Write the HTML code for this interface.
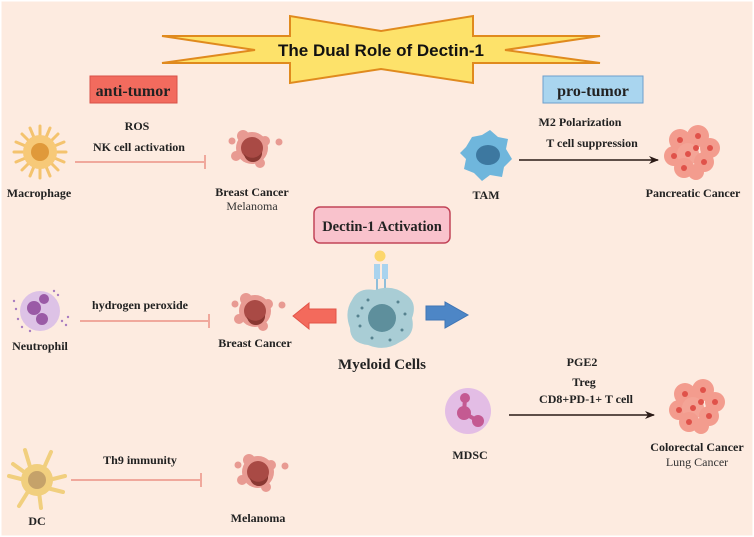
<!DOCTYPE html>
<html><head><meta charset="utf-8"><style>
html,body{margin:0;padding:0;background:#fff}
svg{display:block}
.t{font-family:"Liberation Serif",serif;font-weight:bold;fill:#222;text-anchor:middle}
.n{font-family:"Liberation Serif",serif;fill:#333;text-anchor:middle}
</style></head><body>
<svg width="754" height="537" viewBox="0 0 754 537" xmlns="http://www.w3.org/2000/svg">
<defs>
<marker id="ah" markerWidth="10" markerHeight="8" refX="9" refY="4" orient="auto" markerUnits="userSpaceOnUse"><path d="M0,0 L10,4 L0,8 L3,4 Z" fill="#2a1a16"/></marker>
<g id="cancer">
<circle cx="-9" cy="-12" r="6" fill="#e89a92"/><circle cx="13" cy="-7" r="5" fill="#e89a92"/>
<circle cx="-16" cy="8" r="5" fill="#e89a92"/><circle cx="8" cy="15" r="5" fill="#e89a92"/>
<circle cx="27" cy="-6" r="3.5" fill="#e89a92"/><circle cx="-20" cy="-7" r="3.5" fill="#e89a92"/>
<circle cx="0" cy="0" r="16" fill="#e89a92"/>
<circle cx="0" cy="0" r="11" fill="#a94a45"/>
<path d="M-8,6 A11,11 0 0 0 10,4 A9,9 0 0 1 -8,6Z" fill="#8a3832"/>
</g>
<g id="cluster">
<circle cx="-12" cy="-10" r="11" fill="#f39c8e"/><circle cx="6" cy="-14" r="11" fill="#f39c8e"/>
<circle cx="18" cy="-2" r="10" fill="#f39c8e"/><circle cx="-18" cy="6" r="10" fill="#f39c8e"/>
<circle cx="-4" cy="4" r="11" fill="#f4a496"/><circle cx="12" cy="12" r="10" fill="#f39c8e"/>
<circle cx="-8" cy="18" r="10" fill="#f39c8e"/><circle cx="4" cy="22" r="8" fill="#f39c8e"/>
<circle cx="-12" cy="-10" r="3" fill="#e0524a"/><circle cx="6" cy="-14" r="3" fill="#e0524a"/>
<circle cx="18" cy="-2" r="3" fill="#e0524a"/><circle cx="-18" cy="6" r="3" fill="#e0524a"/>
<circle cx="-4" cy="4" r="3" fill="#e0524a"/><circle cx="12" cy="12" r="3" fill="#e0524a"/>
<circle cx="-8" cy="18" r="3" fill="#e0524a"/><circle cx="4" cy="-2" r="3" fill="#e0524a"/>
</g>
</defs>
<rect x="0" y="0" width="754" height="537" fill="#fdebe0"/>
<rect x="0.5" y="0.5" width="753" height="536" fill="none" stroke="#fff" stroke-width="2"/>

<!-- banner -->
<polygon points="162,36 290,36 290,16 381,31 473,16 473,36 600,36 505,50 600,63 473,63 473,83 381,69 290,83 290,63 162,63 255,50" fill="#fde26a" stroke="#e08a1e" stroke-width="2" stroke-linejoin="miter"/>
<text x="381" y="56" font-family="Liberation Sans,sans-serif" font-weight="bold" font-size="17" text-anchor="middle" fill="#111">The Dual Role of Dectin-1</text>

<!-- labels -->
<rect x="90" y="76" width="87" height="27" fill="#f26b5e" stroke="#d85248"/>
<text x="133" y="96" class="t" font-size="16" fill="#222">anti-tumor</text>
<rect x="543" y="76" width="100" height="27" fill="#a9d5ef" stroke="#6d9fcc"/>
<text x="593" y="96" class="t" font-size="16">pro-tumor</text>

<!-- macrophage -->
<g transform="translate(40,152)">
<g stroke="#f4c36e" stroke-width="3" stroke-linecap="round">
<line x1="0" y1="-26" x2="0" y2="26"/><line x1="-26" y1="0" x2="26" y2="0"/>
<line x1="-18" y1="-18" x2="18" y2="18"/><line x1="-18" y1="18" x2="18" y2="-18"/>
<line x1="-10" y1="-24" x2="10" y2="24"/><line x1="-24" y1="-10" x2="24" y2="10"/>
<line x1="10" y1="-24" x2="-10" y2="24"/><line x1="24" y1="-10" x2="-24" y2="10"/>
</g>
<circle r="17" fill="#f7c978"/><circle r="9" fill="#e0993a"/>
</g>
<text x="39" y="197" class="t" font-size="12">Macrophage</text>
<text x="137" y="130" class="t" font-size="12">ROS</text>
<text x="139" y="151" class="t" font-size="12">NK cell activation</text>
<line x1="75" y1="162" x2="205" y2="162" stroke="#f0a89c" stroke-width="2"/>
<line x1="205" y1="155" x2="205" y2="169" stroke="#f0a89c" stroke-width="2"/>
<use href="#cancer" x="252" y="148"/>
<text x="252" y="196" class="t" font-size="12">Breast Cancer</text>
<text x="252" y="210" class="n" font-size="12">Melanoma</text>

<!-- Dectin box -->
<rect x="314" y="207" width="136" height="36" rx="6" fill="#f9c2cc" stroke="#c24458" stroke-width="1.5"/>
<text x="382" y="231" class="t" font-size="14.5">Dectin-1 Activation</text>
<circle cx="380" cy="256" r="5.5" fill="#fcd66c"/>
<rect x="374" y="264" width="6" height="15" fill="#a9d3ee"/><rect x="382" y="264" width="6" height="15" fill="#a9d3ee"/>
<line x1="377" y1="279" x2="377" y2="294" stroke="#6aaed8" stroke-width="1.5"/><line x1="385" y1="279" x2="385" y2="294" stroke="#6aaed8" stroke-width="1.5"/>
<path d="M352,300 Q358,287 375,290 Q392,284 405,294 Q418,302 412,318 Q416,335 400,342 Q385,352 368,345 Q350,343 350,328 Q344,312 352,300Z" fill="#a9cdd5"/>
<circle cx="382" cy="318" r="14" fill="#5e8f9c"/>
<g fill="#56828f"><circle cx="362" cy="308" r="1.5"/><circle cx="368" cy="300" r="1.5"/><circle cx="398" cy="302" r="1.5"/><circle cx="405" cy="314" r="1.5"/><circle cx="360" cy="326" r="1.5"/><circle cx="402" cy="330" r="1.5"/><circle cx="372" cy="338" r="1.5"/><circle cx="390" cy="340" r="1.5"/><circle cx="358" cy="316" r="1.5"/></g>
<text x="382" y="369" class="t" font-size="15">Myeloid Cells</text>
<polygon points="293,316 309,303 309,309 336,309 336,323 309,323 309,329" fill="#f36a5c" stroke="#e25448"/>
<polygon points="426,306 445,306 445,302 468,315 445,328 445,320 426,320" fill="#4d86c6" stroke="#3f75b5"/>

<!-- neutrophil -->
<g transform="translate(40,311)">
<circle r="20" fill="#ddc2e6"/>
<g fill="#a97cc0"><circle cx="-26" cy="-10" r="1.2"/><circle cx="-22" cy="8" r="1.2"/><circle cx="22" cy="10" r="1.2"/><circle cx="26" cy="14" r="1.2"/><circle cx="-18" cy="16" r="1.2"/><circle cx="14" cy="-20" r="1.2"/><circle cx="18" cy="-16" r="1.2"/><circle cx="-24" cy="-2" r="1.2"/><circle cx="-10" cy="20" r="1.2"/><circle cx="28" cy="6" r="1.2"/></g>
<circle cx="-6" cy="-3" r="7" fill="#9a5aa6"/><circle cx="2" cy="8" r="6" fill="#9a5aa6"/><circle cx="4" cy="-12" r="5" fill="#9a5aa6"/>
</g>
<text x="40" y="350" class="t" font-size="12">Neutrophil</text>
<text x="140" y="309" class="t" font-size="12">hydrogen peroxide</text>
<line x1="80" y1="321" x2="209" y2="321" stroke="#f0a89c" stroke-width="2"/>
<line x1="209" y1="314" x2="209" y2="328" stroke="#f0a89c" stroke-width="2"/>
<use href="#cancer" x="255" y="311"/>
<text x="255" y="347" class="t" font-size="12">Breast Cancer</text>

<!-- DC -->
<g transform="translate(37,480)">
<g stroke="#f1cf7e" stroke-width="4" stroke-linecap="round" fill="none">
<path d="M-6,-10 L-12,-30"/><path d="M6,-10 L14,-28"/><path d="M12,0 L28,-4"/><path d="M10,8 L26,12"/>
<path d="M2,12 L4,28"/><path d="M-8,10 L-18,26"/><path d="M-12,0 L-28,-4"/><path d="M-10,-6 L-24,-16"/>
</g>
<circle r="16" fill="#f1cf7e"/><circle r="9" fill="#c5a26a"/>
</g>
<text x="37" y="525" class="t" font-size="12">DC</text>
<text x="140" y="464" class="t" font-size="12">Th9 immunity</text>
<line x1="71" y1="480" x2="201" y2="480" stroke="#f0a89c" stroke-width="2"/>
<line x1="201" y1="473" x2="201" y2="487" stroke="#f0a89c" stroke-width="2"/>
<use href="#cancer" x="258" y="472"/>
<text x="258" y="522" class="t" font-size="12">Melanoma</text>

<!-- TAM -->
<g transform="translate(486,155)">
<path d="M-20,-8 L-14,-18 L-4,-20 L4,-25 L12,-18 L22,-16 L20,-6 L26,4 L18,12 L16,22 L4,20 L-4,26 L-12,18 L-22,14 L-20,4 L-26,-2Z" fill="#6fb6dc"/>
<ellipse cx="2" cy="0" rx="12" ry="10" fill="#3d78a0"/>
</g>
<text x="486" y="199" class="t" font-size="12">TAM</text>
<text x="580" y="126" class="t" font-size="12">M2 Polarization</text>
<text x="592" y="147" class="t" font-size="12">T cell suppression</text>
<line x1="519" y1="160" x2="658" y2="160" stroke="#2a1a16" stroke-width="1.5" marker-end="url(#ah)"/>
<use href="#cluster" x="692" y="150"/>
<text x="693" y="197" class="t" font-size="12">Pancreatic Cancer</text>

<!-- MDSC -->
<g transform="translate(468,411)">
<circle r="23" fill="#e3bde5"/>
<circle cx="-3" cy="-13" r="5" fill="#c45a92"/><circle cx="-4" cy="2" r="7" fill="#c45a92"/><circle cx="10" cy="10" r="6" fill="#c45a92"/>
<path d="M-3,-13 L-4,2 L10,10" stroke="#c45a92" stroke-width="4" fill="none"/>
</g>
<text x="470" y="459" class="t" font-size="12">MDSC</text>
<text x="582" y="366" class="t" font-size="12">PGE2</text>
<text x="584" y="386" class="t" font-size="12">Treg</text>
<text x="586" y="403" class="t" font-size="12">CD8+PD-1+ T cell</text>
<line x1="509" y1="415" x2="654" y2="415" stroke="#2a1a16" stroke-width="1.5" marker-end="url(#ah)"/>
<use href="#cluster" x="697" y="404"/>
<text x="697" y="451" class="t" font-size="12">Colorectal Cancer</text>
<text x="697" y="466" class="n" font-size="12">Lung Cancer</text>
</svg>
</body></html>
